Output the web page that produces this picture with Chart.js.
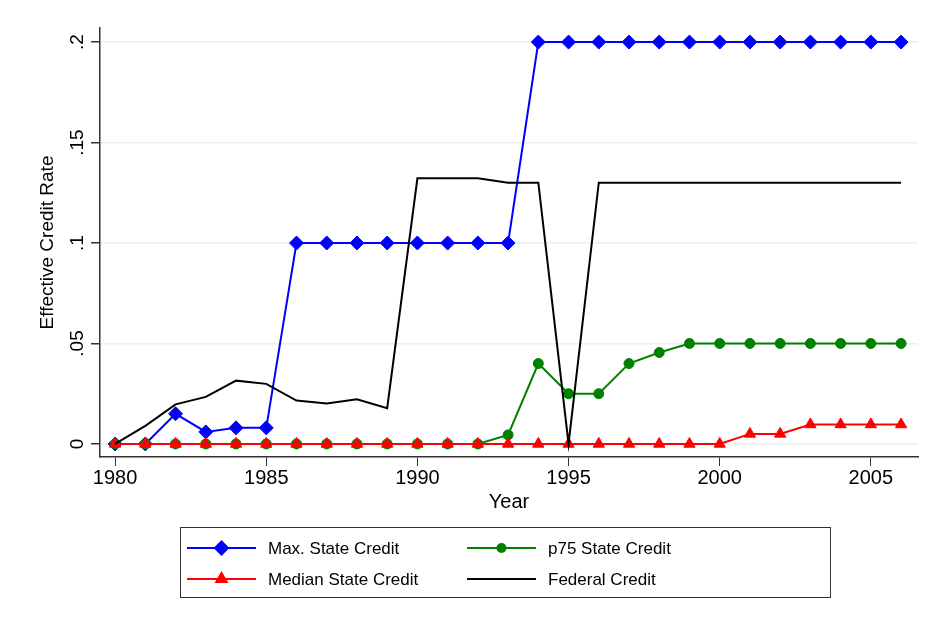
<!DOCTYPE html>
<html>
<head>
<meta charset="utf-8">
<title>Effective Credit Rate</title>
<script src="https://cdn.jsdelivr.net/npm/chart.js@4/dist/chart.umd.min.js"></script>
<style>
    body { margin: 0; background: #ffffff; }
    #wrap { width: 926px; height: 622px; }
</style>
</head>
<body>
<div id="wrap"><canvas id="grafica" width="926" height="622"></canvas></div>
<script>

var years = [1980, 1981, 1982, 1983, 1984, 1985, 1986, 1987, 1988, 1989, 1990, 1991, 1992,
             1993, 1994, 1995, 1996, 1997, 1998, 1999, 2000, 2001, 2002, 2003, 2004, 2005, 2006]

var maxState = [0, 0, 0.015, 0.006, 0.008, 0.008, 0.1, 0.1, 0.1, 0.1, 0.1, 0.1, 0.1,
                0.1, 0.2, 0.2, 0.2, 0.2, 0.2, 0.2, 0.2, 0.2, 0.2, 0.2, 0.2, 0.2, 0.2]

var p75State = [0, 0, 0, 0, 0, 0, 0, 0, 0, 0, 0, 0, 0,
                0.0045, 0.04, 0.025, 0.025, 0.04, 0.0455, 0.05, 0.05, 0.05, 0.05, 0.05, 0.05, 0.05, 0.05]

var medianState = [0, 0, 0, 0, 0, 0, 0, 0, 0, 0, 0, 0, 0,
                   0, 0, 0, 0, 0, 0, 0, 0, 0.005, 0.005, 0.0097, 0.0097, 0.0097, 0.0097]

var federal = [0, 0.009, 0.0197, 0.0234, 0.0315, 0.0299, 0.0216, 0.0201, 0.0222, 0.0178, 0.1322, 0.1322, 0.1322,
               0.13, 0.13, 0, 0.13, 0.13, 0.13, 0.13, 0.13, 0.13, 0.13, 0.13, 0.13, 0.13, 0.13]

var seriesNames = ['Max. State Credit', 'p75 State Credit', 'Median State Credit', 'Federal Credit']

var xTicks = [1980, 1985, 1990, 1995, 2000, 2005]
var yTicks = [0, 0.05, 0.1, 0.15, 0.2]
var yTickLabels = ['0', '.05', '.1', '.15', '.2']

var fontFam = '"Liberation Sans", Arial, Helvetica, sans-serif'

function toPoints(values) {
    return years.map(function(y, i) { return { x: y, y: values[i] } })
}

/* legend drawn by hand, Stata style box under the plot */
var stataLegend = {
    id: 'stataLegend',
    afterDraw: function(chart) {
        var ctx = chart.ctx
        ctx.save()
        ctx.strokeStyle = '#333333'
        ctx.lineWidth = 1
        ctx.strokeRect(180.5, 527.5, 650, 70)

        var slots = [
            { ds: 0, x: 187, y: 548 },
            { ds: 1, x: 467, y: 548 },
            { ds: 2, x: 187, y: 579 },
            { ds: 3, x: 467, y: 579 }
        ]
        slots.forEach(function(s) {
            var d = chart.data.datasets[s.ds]
            ctx.strokeStyle = d.borderColor
            ctx.lineWidth = 2
            ctx.beginPath()
            ctx.moveTo(s.x, s.y)
            ctx.lineTo(s.x + 69, s.y)
            ctx.stroke()
            if (d.pointRadius > 0) {
                var legendRadius = d.pointStyle === 'circle' ? 4 : (d.pointStyle === 'triangle' ? 6 : 6.5)
                Chart.helpers.drawPoint(ctx, {
                    pointStyle: d.pointStyle,
                    radius: legendRadius,
                    rotation: 0,
                    borderWidth: 1
                }, s.x + 34.5, s.y)
                ctx.fillStyle = d.backgroundColor
                ctx.fill()
            }
            ctx.fillStyle = '#000000'
            ctx.font = '17px ' + fontFam
            ctx.textBaseline = 'middle'
            ctx.textAlign = 'left'
            ctx.fillText(d.label, s.x + 81, s.y + 1)
        })
        ctx.restore()
    }
}

var config = {
    type: 'line',
    data: {
        datasets: [{
            label: seriesNames[0],
            data: toPoints(maxState),
            borderColor: '#0000ff',
            backgroundColor: '#0000ff',
            borderWidth: 2,
            pointStyle: 'rectRot',
            pointRadius: 7,
            pointBorderWidth: 1,
            order: 4
        }, {
            label: seriesNames[1],
            data: toPoints(p75State),
            borderColor: '#008000',
            backgroundColor: '#008000',
            borderWidth: 2,
            pointStyle: 'circle',
            pointRadius: 5,
            pointBorderWidth: 1,
            order: 3
        }, {
            label: seriesNames[2],
            data: toPoints(medianState),
            borderColor: '#ff0000',
            backgroundColor: '#ff0000',
            borderWidth: 2,
            pointStyle: 'triangle',
            pointRadius: 6.5,
            pointBorderWidth: 1,
            order: 2
        }, {
            label: seriesNames[3],
            data: toPoints(federal),
            borderColor: '#000000',
            backgroundColor: '#000000',
            borderWidth: 2,
            pointRadius: 0,
            order: 1
        }]
    },
    options: {
        responsive: false,
        animation: false,
        layout: {
            padding: { left: 0, right: 8, top: 28, bottom: 100 }
        },
        plugins: {
            legend: { display: false },
            tooltip: { enabled: false }
        },
        scales: {
            x: {
                type: 'linear',
                min: 1979.5,
                max: 2006.56,
                afterBuildTicks: function(scale) {
                    scale.ticks = xTicks.map(function(v) { return { value: v } })
                },
                afterFit: function(scale) { scale.height = 65 },
                grid: {
                    drawOnChartArea: false,
                    drawTicks: true,
                    tickLength: 9,
                    tickColor: '#333333'
                },
                border: { color: '#333333', width: 1.5 },
                ticks: {
                    color: '#000000',
                    padding: 0,
                    maxRotation: 0,
                    font: { family: fontFam, size: 20 },
                    callback: function(v) { return String(v) }
                },
                title: {
                    display: true,
                    text: 'Year',
                    color: '#000000',
                    font: { family: fontFam, size: 20 },
                    padding: { top: 0, bottom: 8 }
                }
            },
            y: {
                min: -0.0065,
                max: 0.207,
                afterBuildTicks: function(scale) {
                    scale.ticks = yTicks.map(function(v) { return { value: v } })
                },
                afterFit: function(scale) { scale.width = 100 },
                grid: {
                    color: '#e6eff1',
                    lineWidth: 1.5,
                    drawTicks: true,
                    tickLength: 9,
                    tickColor: '#333333'
                },
                border: { color: '#333333', width: 1.5 },
                ticks: {
                    color: '#000000',
                    padding: 0,
                    minRotation: 90,
                    maxRotation: 90,
                    crossAlign: 'center',
                    font: { family: fontFam, size: 19 },
                    callback: function(v) {
                        var i = yTicks.indexOf(v)
                        return i >= 0 ? yTickLabels[i] : ''
                    }
                },
                title: {
                    display: true,
                    text: 'Effective Credit Rate',
                    color: '#000000',
                    font: { family: fontFam, size: 19 },
                    padding: { top: 36, bottom: 0 }
                }
            }
        }
    },
    plugins: [stataLegend]
}

var ctx = document.getElementById('grafica').getContext('2d')
window.myLine = new Chart(ctx, config)

</script>
</body>
</html>
